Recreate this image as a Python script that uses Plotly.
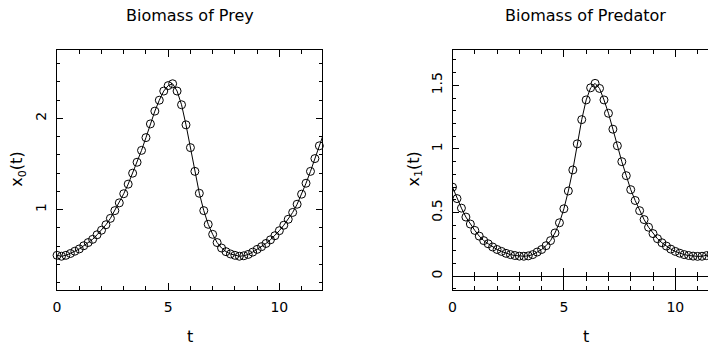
import plotly.graph_objects as go

# ---- data ----
t = [0.0, 0.2, 0.4, 0.6, 0.8, 1.0, 1.2, 1.4, 1.6, 1.8,
     2.0, 2.2, 2.4, 2.6, 2.8, 3.0, 3.2, 3.4, 3.6, 3.8,
     4.0, 4.2, 4.4, 4.6, 4.8, 5.0, 5.2, 5.4, 5.6, 5.8,
     6.0, 6.2, 6.4, 6.6, 6.8, 7.0, 7.2, 7.4, 7.6, 7.8,
     8.0, 8.2, 8.4, 8.6, 8.8, 9.0, 9.2, 9.4, 9.6, 9.8,
     10.0, 10.2, 10.4, 10.6, 10.8, 11.0, 11.2, 11.4, 11.6, 11.8,
     12.0]

prey = [0.50, 0.49, 0.50, 0.52, 0.545, 0.57, 0.605, 0.64, 0.675, 0.725,
        0.775, 0.835, 0.905, 0.99, 1.075, 1.175, 1.28, 1.40, 1.52, 1.65,
        1.79, 1.94, 2.08, 2.20, 2.30, 2.36, 2.38, 2.30, 2.15, 1.93,
        1.68, 1.42, 1.18, 0.99, 0.84, 0.73, 0.64, 0.58, 0.54, 0.515,
        0.50, 0.49, 0.495, 0.51, 0.535, 0.565, 0.595, 0.63, 0.67, 0.715,
        0.77, 0.83, 0.895, 0.97, 1.06, 1.17, 1.29, 1.42, 1.56, 1.70,
        1.84]

predator = [0.70, 0.61, 0.535, 0.465, 0.41, 0.36, 0.315, 0.28, 0.255, 0.23,
            0.21, 0.195, 0.18, 0.17, 0.163, 0.158, 0.157, 0.16, 0.17, 0.19,
            0.21, 0.24, 0.28, 0.34, 0.42, 0.53, 0.67, 0.835, 1.04, 1.23,
            1.385, 1.48, 1.515, 1.475, 1.385, 1.28, 1.155, 1.025, 0.90, 0.79,
            0.68, 0.595, 0.515, 0.445, 0.385, 0.335, 0.295, 0.263, 0.237, 0.213,
            0.195, 0.181, 0.17, 0.163, 0.158, 0.156, 0.157, 0.162, 0.172, 0.19,
            0.21]

titles = ["Biomass of Prey", "Biomass of Predator"]
ylabels = ["x<sub>0</sub>(t)", "x<sub>1</sub>(t)"]
xlabel = "t"

# ---- layout geometry (page pixels, page has an 8px body margin) ----
OFF = 8
W, H = 716, 340
PLOT_TOP, PLOT_BOT = 50 - OFF, 290.5 - OFF
MT, MB = PLOT_TOP, H - PLOT_BOT
PH = H - MT - MB

def px(pix):
    return (pix - OFF) / W

def py(pix):
    return (PLOT_BOT - (pix - OFF)) / PH

left_dom = [px(53.3), px(320.0)]
right_dom = [px(451.0), px(716.0)]
x1_range = [0, 11.93]
x2_range = [0, 11.83]
y1_range = [0.12, 2.75]
y2_range = [-0.108, 1.777]
zero_pos = (0 - y2_range[0]) / (y2_range[1] - y2_range[0])

FONT = "DejaVu Sans"
BLACK = "black"

fig = go.Figure()

marker = dict(symbol="circle-open", size=8, color=BLACK, line=dict(width=1, color=BLACK))
fig.add_trace(go.Scatter(x=t, y=prey, mode="lines+markers", xaxis="x", yaxis="y",
                         line=dict(color=BLACK, width=1), marker=marker,
                         cliponaxis=False, hoverinfo="skip"))
fig.add_trace(go.Scatter(x=t, y=predator, mode="lines+markers", xaxis="x2", yaxis="y2",
                         line=dict(color=BLACK, width=1), marker=marker,
                         hoverinfo="skip"))
# invisible carriers for the tick rows on the zero line
for ax in ["x3", "x4"]:
    fig.add_trace(go.Scatter(x=t, y=predator, mode="lines", xaxis=ax, yaxis="y2",
                             line=dict(width=0, color="rgba(0,0,0,0)"),
                             hoverinfo="skip", showlegend=False))

common = dict(showgrid=False, zeroline=False, showline=True, linecolor=BLACK, linewidth=1,
              mirror="ticks", ticks="inside", tickcolor=BLACK, tickwidth=1,
              tickfont=dict(family=FONT, size=14, color=BLACK))

fig.update_layout(
    width=W, height=H, margin=dict(l=0, r=0, t=MT, b=MB),
    paper_bgcolor="white", plot_bgcolor="white", showlegend=False,
    xaxis=dict(domain=left_dom, anchor="y", range=x1_range, tick0=0, dtick=5, ticklen=7,
               minor=dict(dtick=1, tick0=0, ticks="inside", ticklen=4, tickcolor=BLACK, showgrid=False),
               ticklabelstandoff=4, **common),
    yaxis=dict(domain=[0, 1], anchor="x", range=y1_range, tick0=0, dtick=1, ticklen=6,
               tickangle=-90,
               minor=dict(dtick=0.2, tick0=0, ticks="inside", ticklen=3, tickcolor=BLACK, showgrid=False),
               ticklabelstandoff=4, **common),
    xaxis2=dict(domain=right_dom, anchor="y2", range=x2_range, tick0=0, dtick=5, ticklen=7,
                minor=dict(dtick=1, tick0=0, ticks="inside", ticklen=4, tickcolor=BLACK, showgrid=False),
                ticklabelstandoff=4, **common),
    yaxis2=dict(domain=[0, 1], anchor="x2", range=y2_range, tick0=0, dtick=0.5, ticklen=6,
                tickangle=-90,
                minor=dict(dtick=0.1, tick0=0, ticks="inside", ticklen=3, tickcolor=BLACK, showgrid=False),
                ticklabelstandoff=4, **common),
    xaxis3=dict(overlaying="x2", anchor="free", position=zero_pos, side="bottom",
                range=x2_range, tick0=0, dtick=5, ticks="outside", ticklen=8, tickcolor=BLACK,
                minor=dict(dtick=1, tick0=0, ticks="outside", ticklen=4, tickcolor=BLACK, showgrid=False),
                showticklabels=False, showgrid=False, zeroline=False,
                showline=True, linecolor=BLACK, linewidth=1),
    xaxis4=dict(overlaying="x2", anchor="free", position=zero_pos, side="bottom",
                range=x2_range, tick0=0, dtick=5, ticks="inside", ticklen=8, tickcolor=BLACK,
                minor=dict(dtick=1, tick0=0, ticks="inside", ticklen=4, tickcolor=BLACK, showgrid=False),
                showticklabels=False, showgrid=False, zeroline=False,
                showline=False),
)

ann_font = dict(family=FONT, size=16, color=BLACK)
centers = [px((53.3 + 320.0) / 2), px(585.0)]
ylab_x = [px(14.0), px(413.0)]
for i in range(2):
    fig.add_annotation(text=titles[i], xref="paper", yref="paper", x=centers[i], y=py(15.5),
                       xanchor="center", yanchor="middle", showarrow=False, font=ann_font)
    fig.add_annotation(text=xlabel, xref="paper", yref="paper", x=centers[i], y=py(337.5),
                       xanchor="center", yanchor="middle", showarrow=False, font=ann_font)
    fig.add_annotation(text=ylabels[i], xref="paper", yref="paper", x=ylab_x[i], y=py(169),
                       xanchor="center", yanchor="middle", showarrow=False, font=ann_font,
                       textangle=-90)

fig.write_html("out.html")
